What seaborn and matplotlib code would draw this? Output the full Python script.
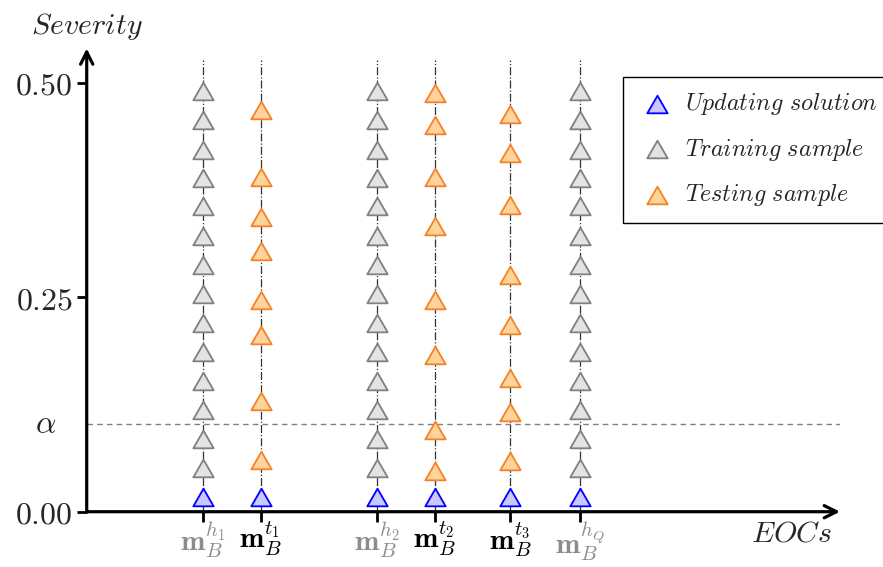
import numpy as np
import pandas as pd
import matplotlib
matplotlib.use("Agg")
import matplotlib.pyplot as plt
from matplotlib.path import Path
import seaborn as sns

# ---- data -------------------------------------------------------------
eoc_positions = [1.0, 1.5, 2.5, 3.0, 3.65, 4.25]
eoc_labels = [r"$\mathbf{m}_B^{h_1}$", r"$\mathbf{m}_B^{t_1}$",
              r"$\mathbf{m}_B^{h_2}$", r"$\mathbf{m}_B^{t_2}$",
              r"$\mathbf{m}_B^{t_3}$", r"$\mathbf{m}_B^{h_Q}$"]
eoc_is_training = [True, False, True, False, False, True]

updating_severity = 0.0175
training_severity = [0.051, 0.085, 0.119, 0.152, 0.186, 0.220, 0.254,
                     0.288, 0.321, 0.356, 0.389, 0.422, 0.457, 0.490]
testing_t1 = [0.060, 0.129, 0.206, 0.247, 0.304, 0.344, 0.390, 0.468]
testing_t2 = [0.047, 0.095, 0.183, 0.247, 0.333, 0.390, 0.451, 0.488]
testing_t3 = [0.059, 0.116, 0.156, 0.218, 0.276, 0.358, 0.418, 0.463]
alpha_level = 0.102

y_ticks = [0.0, 0.25, 0.5]
y_tick_labels = [r"$0.00$", r"$0.25$", r"$0.50$"]

# ---- long-form table ----------------------------------------------------
testing_by_eoc = {1: testing_t1, 3: testing_t2, 4: testing_t3}
rows = []
for i, x in enumerate(eoc_positions):
    rows.append((x, updating_severity, "Updating solution"))
    if eoc_is_training[i]:
        rows += [(x, s, "Training sample") for s in training_severity]
    else:
        rows += [(x, s, "Testing sample") for s in testing_by_eoc[i]]
df = pd.DataFrame(rows, columns=["eoc", "severity", "kind"])

# ---- style ----------------------------------------------------------------
sns.set_style("white")
plt.rcParams["mathtext.fontset"] = "cm"
plt.rcParams["font.family"] = ["DejaVu Sans"]

# equilateral triangle marker
h = np.sqrt(3.0) / 2.0
tri = Path([(-1.0, -h), (1.0, -h), (0.0, h), (-1.0, -h)],
           [Path.MOVETO, Path.LINETO, Path.LINETO, Path.CLOSEPOLY])

fig = plt.figure(figsize=(8.83, 5.67), dpi=100)
ax = fig.add_axes([0.0982, 0.0975, 0.8531, 0.8171])

x_max, y_max = 6.494, 0.54
ax.set_xlim(0, x_max)
ax.set_ylim(0, y_max)

# guide lines for each EOC and the alpha threshold
ax.vlines(eoc_positions, 0, 0.526, colors="#333333", linestyles="-.",
          linewidth=0.9, zorder=1)
ax.axhline(alpha_level, color="#808080", linestyle="--", linewidth=1.0,
           dashes=(4, 3), zorder=1)

styles = {
    "Updating solution": dict(color="#c8c8ff", edgecolor="#0000ff"),
    "Training sample": dict(color="#e3e3e3", edgecolor="#808080"),
    "Testing sample": dict(color="#ffd49a", edgecolor="#f5822a"),
}
for kind, st in styles.items():
    sub = df[df["kind"] == kind]
    sns.scatterplot(data=sub, x="eoc", y="severity", ax=ax, marker=tri,
                    s=215, linewidth=1.3, label=r"$" + kind.replace(" ", r"\ ") + r"$",
                    zorder=3, **st)

# axes with arrow heads
for side in ["top", "right", "left", "bottom"]:
    ax.spines[side].set_visible(False)
ax.annotate("", xy=(1, 0), xytext=(0, 0), xycoords="axes fraction",
            arrowprops=dict(arrowstyle="->", lw=2.3, color="black",
                            shrinkA=0, shrinkB=0, mutation_scale=22),
            annotation_clip=False)
ax.annotate("", xy=(0, 1), xytext=(0, 0), xycoords="axes fraction",
            arrowprops=dict(arrowstyle="->", lw=2.3, color="black",
                            shrinkA=0, shrinkB=0, mutation_scale=22),
            annotation_clip=False)

# ticks
ax.set_yticks(y_ticks)
ax.set_yticklabels(y_tick_labels, fontsize=23)
ax.set_xticks(eoc_positions)
ax.set_xticklabels(eoc_labels, fontsize=21)
for lbl, train in zip(ax.get_xticklabels(), eoc_is_training):
    lbl.set_color("#8c8c8c" if train else "black")
ax.tick_params(axis="both", direction="out", length=7, width=2.0,
               color="black", left=True, bottom=True)
ax.tick_params(axis="y", pad=3)
ax.tick_params(axis="x", pad=-1)
ax.text(-0.054, alpha_level, r"$\alpha$", transform=ax.get_yaxis_transform(),
        ha="center", va="center", fontsize=23)

ax.set_xlabel("")
ax.set_ylabel("")
ax.text(0.0, 1.048, r"$Severity$", transform=ax.transAxes, ha="center",
        va="center", fontsize=21.5)
ax.text(0.936, -0.046, r"$EOCs$", transform=ax.transAxes, ha="center",
        va="center", fontsize=21.5)

leg = ax.legend(loc="upper left", bbox_to_anchor=(623 / 883, 1 - 77 / 567),
                bbox_transform=fig.transFigure, fontsize=17.4, frameon=True,
                fancybox=False, edgecolor="black", framealpha=1,
                borderpad=0.6, labelspacing=0.8, handletextpad=0.35,
                handlelength=1.6, borderaxespad=0)
leg.get_frame().set_linewidth(1.0)

fig.savefig("out.png", dpi=100)
